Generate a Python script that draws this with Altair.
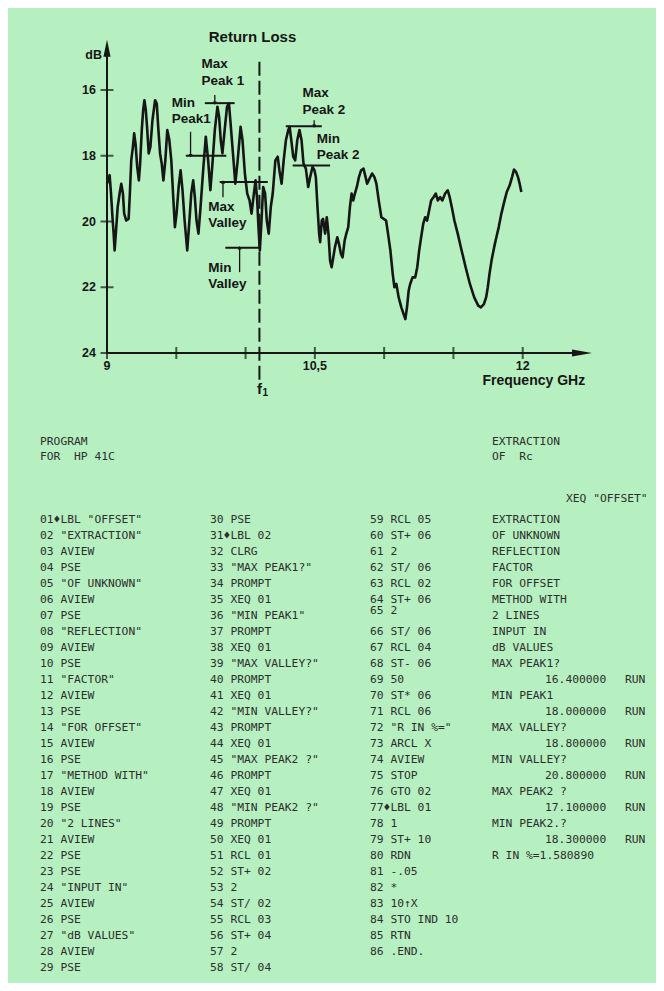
import altair as alt
import pandas as pd

BG = "#b6f0c0"
INK = "#161616"
PRINT = "#2e2e2e"
SANS = "Liberation Sans"
MONO = "DejaVu Sans Mono"

# ---------------- curve ----------------
freq_ghz = [
    9.000, 9.019, 9.029, 9.041, 9.048, 9.055, 9.067, 9.077, 9.091, 9.103,
    9.115, 9.124, 9.139, 9.156, 9.165, 9.175, 9.187, 9.196, 9.206, 9.218,
    9.230, 9.239, 9.251, 9.261, 9.270, 9.280, 9.289, 9.301, 9.313, 9.328,
    9.347, 9.359, 9.371, 9.383, 9.395, 9.407, 9.421, 9.435, 9.450, 9.464,
    9.478, 9.490, 9.502, 9.517, 9.531, 9.545, 9.560, 9.579, 9.593, 9.608,
    9.622, 9.634, 9.646, 9.660, 9.675, 9.694, 9.713, 9.730, 9.746, 9.761,
    9.778, 9.797, 9.809, 9.821, 9.833, 9.849, 9.866, 9.880, 9.892, 9.909,
    9.926, 9.943, 9.964, 9.978, 9.995, 10.012, 10.029, 10.043, 10.060, 10.072,
    10.084, 10.093, 10.103, 10.115, 10.127, 10.141, 10.153, 10.167, 10.182, 10.196,
    10.215, 10.232, 10.244, 10.260, 10.275, 10.291, 10.308, 10.318, 10.330, 10.344,
    10.358, 10.373, 10.389, 10.404, 10.418, 10.435, 10.452, 10.466, 10.483, 10.497,
    10.507, 10.519, 10.531, 10.538, 10.550, 10.559, 10.574, 10.586, 10.598, 10.610,
    10.621, 10.633, 10.645, 10.662, 10.674, 10.688, 10.700, 10.715, 10.727, 10.741,
    10.753, 10.765, 10.777, 10.789, 10.803, 10.818, 10.834, 10.851, 10.866, 10.877,
    10.894, 10.913, 10.930, 10.944, 10.961, 10.980, 10.997, 11.014, 11.028, 11.045,
    11.062, 11.074, 11.088, 11.105, 11.124, 11.141, 11.153, 11.165, 11.177, 11.188,
    11.205, 11.224, 11.239, 11.253, 11.267, 11.282, 11.296, 11.310, 11.325, 11.339,
    11.356, 11.373, 11.387, 11.404, 11.420, 11.440, 11.459, 11.473, 11.488, 11.507,
    11.531, 11.559, 11.588, 11.619, 11.650, 11.679, 11.698, 11.720, 11.736, 11.748,
    11.760, 11.775, 11.794, 11.810, 11.827, 11.846, 11.866, 11.885, 11.906, 11.923,
    11.937, 11.952, 11.966, 11.978, 11.990,
]
loss_db = [
    18.85, 18.59, 19.15, 19.97, 20.37, 20.88, 20.17, 19.56, 19.15, 18.85,
    19.15, 19.76, 19.97, 19.92, 19.15, 18.14, 17.73, 17.32, 17.63, 18.34,
    18.75, 18.24, 17.22, 16.61, 16.31, 16.61, 17.12, 17.93, 17.73, 16.92,
    16.31, 16.41, 17.22, 17.93, 18.24, 18.75, 18.14, 17.22, 17.53, 18.14,
    19.26, 20.17, 19.76, 18.95, 18.44, 19.05, 19.97, 20.88, 20.07, 19.15,
    18.75, 19.26, 19.97, 20.37, 19.56, 18.44, 17.42, 18.14, 19.05, 18.24,
    17.22, 16.51, 16.81, 17.53, 17.93, 17.22, 16.51, 16.41, 17.02, 17.93,
    18.85, 18.14, 17.12, 17.53, 18.54, 19.15, 19.36, 19.76, 19.15, 18.75,
    19.36, 20.17, 20.88, 19.97, 18.95, 19.15, 19.97, 20.37, 19.56, 19.15,
    18.14, 18.03, 18.44, 18.85, 18.14, 17.53, 17.22, 17.12, 17.53, 18.03,
    18.14, 17.53, 17.22, 17.53, 18.24, 18.39, 18.95, 18.65, 18.34, 18.44,
    18.65, 19.56, 20.37, 20.63, 19.97, 19.92, 20.37, 19.87, 20.37, 21.19,
    21.39, 21.09, 20.78, 20.48, 20.68, 20.98, 21.09, 20.58, 20.37, 20.17,
    19.56, 19.15, 19.36, 19.15, 18.95, 18.65, 18.44, 18.39, 18.65, 18.85,
    18.70, 18.54, 18.65, 18.85, 19.36, 19.87, 19.92, 19.97, 20.37, 20.88,
    21.60, 22.00, 21.90, 22.31, 22.61, 22.82, 22.97, 22.61, 22.10, 21.90,
    21.70, 21.70, 21.39, 20.88, 20.48, 20.07, 19.87, 19.97, 19.66, 19.36,
    19.26, 19.15, 19.36, 19.26, 19.36, 19.15, 19.05, 19.26, 19.56, 19.97,
    20.37, 20.88, 21.39, 21.90, 22.31, 22.56, 22.61, 22.51, 22.31, 22.00,
    21.60, 21.19, 20.78, 20.48, 20.17, 19.76, 19.41, 19.10, 18.90, 18.65,
    18.42, 18.49, 18.65, 18.85, 19.10,
]

# ---------------- axes ----------------
x_tick_ghz = [9, 9.5, 10, 10.5, 11, 11.5, 12]
x_label_ghz = [9, 10.5, 12]
x_label_text = ["9", "10,5", "12"]
y_tick_db = [16, 18, 20, 22, 24]
y_label_text = ["16", "18", "20", "22", "24"]
origin_ghz = 9
origin_db = 24
x_axis_end_ghz = 12.43
y_axis_end_db = 14.75
f1_ghz = 10.1
f1_top_db = 15.14
f1_bottom_db = 24.9

# ---------------- annotation levels ----------------
level_db = [16.4, 18.0, 18.8, 20.8, 17.1, 18.3]
level_start_ghz = [9.706, 9.569, 9.813, 9.854, 10.29, 10.34]
level_end_ghz = [9.921, 9.861, 10.16, 10.10, 10.55, 10.61]
label_text = ["Max\nPeak 1", "Min\nPeak1", "Max\nValley", "Min\nValley", "Max\nPeak 2", "Min\nPeak 2"]
label_ghz = [9.682, 9.467, 9.73, 9.73, 10.41, 10.514]
label_db = [15.0, 16.18, 19.34, 21.2, 15.88, 17.27]
leader_ghz = [9.778, 9.603, 9.837, 9.957, 10.495]
leader_from_db = [16.15, 17.27, 19.26, 21.54, 16.92]
leader_to_db = [16.4, 18.0, 18.8, 20.8, 17.1]
leader_dir = ["down", "down", "up", "up", "down"]

# ---------------- program listing ----------------
header_left = ["PROGRAM", "FOR\u00a0\u00a0HP 41C"]
header_right = ["EXTRACTION", "OF\u00a0\u00a0Rc"]
header_rows = [-4.9, -3.95]
xeq_text = 'XEQ "OFFSET"'
xeq_row = -1.3

col1 = [
    '01\u2666LBL "OFFSET"', '02 "EXTRACTION"', '03 AVIEW', '04 PSE', '05 "OF UNKNOWN"',
    '06 AVIEW', '07 PSE', '08 "REFLECTION"', '09 AVIEW', '10 PSE', '11 "FACTOR"',
    '12 AVIEW', '13 PSE', '14 "FOR OFFSET"', '15 AVIEW', '16 PSE', '17 "METHOD WITH"',
    '18 AVIEW', '19 PSE', '20 "2 LINES"', '21 AVIEW', '22 PSE', '23 PSE',
    '24 "INPUT IN"', '25 AVIEW', '26 PSE', '27 "dB VALUES"', '28 AVIEW', '29 PSE',
]
col2 = [
    '30 PSE', '31\u2666LBL 02', '32 CLRG', '33 "MAX PEAK1?"', '34 PROMPT', '35 XEQ 01',
    '36 "MIN PEAK1"', '37 PROMPT', '38 XEQ 01', '39 "MAX VALLEY?"', '40 PROMPT',
    '41 XEQ 01', '42 "MIN VALLEY?"', '43 PROMPT', '44 XEQ 01', '45 "MAX PEAK2 ?"',
    '46 PROMPT', '47 XEQ 01', '48 "MIN PEAK2 ?"', '49 PROMPT', '50 XEQ 01',
    '51 RCL 01', '52 ST+ 02', '53 2', '54 ST/ 02', '55 RCL 03', '56 ST+ 04',
    '57 2', '58 ST/ 04',
]
col3 = [
    '59 RCL 05', '60 ST+ 06', '61 2', '62 ST/ 06', '63 RCL 02', '64 ST+ 06', '65 2',
    '66 ST/ 06', '67 RCL 04', '68 ST- 06', '69 50', '70 ST* 06', '71 RCL 06',
    '72 "R IN %="', '73 ARCL X', '74 AVIEW', '75 STOP', '76 GTO 02', '77\u2666LBL 01',
    '78 1', '79 ST+ 10', '80 RDN', '81 -.05', '82 *', '83 10\u2191X', '84 STO IND 10',
    '85 RTN', '86 .END.',
]
col3_rows = [0, 1, 2, 3, 4, 5, 5.7] + list(range(7, 28))
intro = ["EXTRACTION", "OF UNKNOWN", "REFLECTION", "FACTOR", "FOR OFFSET",
         "METHOD WITH", "2 LINES", "INPUT IN", "dB VALUES"]
prompts = ["MAX PEAK1?", "MIN PEAK1", "MAX VALLEY?", "MIN VALLEY?", "MAX PEAK2 ?", "MIN PEAK2.?"]
answers = ["16.400000", "18.000000", "18.800000", "20.800000", "17.100000", "18.300000"]
result = "R IN %=1.580890"

# ---------------- tables ----------------
curve_df = pd.DataFrame({"f": freq_ghz, "db": loss_db})
axes_df = pd.DataFrame({"f": [origin_ghz, origin_ghz], "f2": [origin_ghz, x_axis_end_ghz],
                        "db": [origin_db, origin_db], "db2": [y_axis_end_db, origin_db]})
xtick_df = pd.DataFrame({"f": x_tick_ghz, "db": origin_db})
ytick_df = pd.DataFrame({"f": origin_ghz, "db": y_tick_db, "t": y_label_text})
xlab_df = pd.DataFrame({"f": x_label_ghz, "db": origin_db, "t": x_label_text})
level_df = pd.DataFrame({"f": level_start_ghz, "f2": level_end_ghz, "db": level_db})
label_df = pd.DataFrame({"f": label_ghz, "db": label_db, "t": label_text})
leader_df = pd.DataFrame({"f": leader_ghz, "db": leader_from_db, "db2": leader_to_db, "d": leader_dir})
f1_df = pd.DataFrame({"f": [f1_ghz], "db": [f1_top_db], "db2": [f1_bottom_db]})

rows = []
for i, t in enumerate(header_left):
    rows.append({"col": 0, "row": header_rows[i], "text": t})
for i, t in enumerate(header_right):
    rows.append({"col": 3, "row": header_rows[i], "text": t})
rows.append({"col": 5, "row": xeq_row, "text": xeq_text})
for i, t in enumerate(col1):
    rows.append({"col": 0, "row": i, "text": t})
for i, t in enumerate(col2):
    rows.append({"col": 1, "row": i, "text": t})
for r, t in zip(col3_rows, col3):
    rows.append({"col": 2, "row": r, "text": t})
for i, t in enumerate(intro):
    rows.append({"col": 3, "row": i, "text": t})
for k, (p, a) in enumerate(zip(prompts, answers)):
    rows.append({"col": 3, "row": len(intro) + 2 * k, "text": p})
    rows.append({"col": 4, "row": len(intro) + 2 * k + 1, "text": a})
    rows.append({"col": 6, "row": len(intro) + 2 * k + 1, "text": "RUN"})
rows.append({"col": 3, "row": len(intro) + 2 * len(prompts), "text": result})
listing_df = pd.DataFrame(rows)

# ---------------- scales ----------------
def xs():
    return alt.Scale(domain=[9, 12.5], range=[99, 584], nice=False, zero=False)

def ys():
    return alt.Scale(domain=[16, 24], range=[82, 345], nice=False, zero=False)

def X(f):
    return alt.X(f, type="quantitative", scale=xs(), axis=None)

def Y(f):
    return alt.Y(f, type="quantitative", scale=ys(), axis=None)

bold = dict(font=SANS, fontWeight="bold", color=INK)

curve = alt.Chart(curve_df).mark_line(color=INK, strokeWidth=2.6, strokeJoin="round").encode(
    x=X("f"), y=Y("db"))
axes = alt.Chart(axes_df).mark_rule(color=INK, strokeWidth=2).encode(
    x=X("f"), x2="f2", y=Y("db"), y2="db2")
y_arrow = alt.Chart(pd.DataFrame({"f": [origin_ghz], "db": [14.73]})).mark_point(
    shape="M0,-1L0.42,1L-0.42,1Z", size=289, filled=True, color=INK, opacity=1, strokeWidth=0
).encode(x=X("f"), y=Y("db"))
x_arrow = alt.Chart(pd.DataFrame({"f": [12.428], "db": [origin_db]})).mark_point(
    shape="M1,0L-1,-0.36L-1,0.36Z", size=400, filled=True, color=INK, opacity=1, strokeWidth=0
).encode(x=X("f"), y=Y("db"))
xticks = alt.Chart(xtick_df).mark_tick(orient="vertical", size=12, thickness=2, color=INK).encode(
    x=X("f"), y=Y("db"))
yticks = alt.Chart(ytick_df).mark_tick(orient="horizontal", size=13, thickness=2, color=INK).encode(
    x=X("f"), y=Y("db"))
ylabels = alt.Chart(ytick_df).mark_text(align="right", baseline="middle", dx=-11, fontSize=12.5, **bold).encode(
    x=X("f"), y=Y("db"), text="t:N")
xlabels = alt.Chart(xlab_df).mark_text(align="center", baseline="middle", dy=13, fontSize=12.5, **bold).encode(
    x=X("f"), y=Y("db"), text="t:N")
db_label = alt.Chart(pd.DataFrame({"f": [origin_ghz], "db": [14.94], "t": ["dB"]})).mark_text(
    align="right", baseline="middle", dx=-5, fontSize=12.5, **bold).encode(x=X("f"), y=Y("db"), text="t:N")
title = alt.Chart(pd.DataFrame({"f": [10.05], "db": [14.39], "t": ["Return Loss"]})).mark_text(
    align="center", baseline="middle", fontSize=15, **bold).encode(x=X("f"), y=Y("db"), text="t:N")
freq_label = alt.Chart(pd.DataFrame({"f": [12.08], "db": [origin_db], "t": ["Frequency GHz"]})).mark_text(
    align="center", baseline="middle", dy=28, fontSize=14, **bold).encode(x=X("f"), y=Y("db"), text="t:N")
f1_line = alt.Chart(f1_df).mark_rule(color=INK, strokeWidth=2, strokeDash=[14, 5]).encode(
    x=X("f"), y=Y("db"), y2="db2")
f1_f = alt.Chart(pd.DataFrame({"f": [f1_ghz], "db": [origin_db], "t": ["f"]})).mark_text(
    align="center", baseline="middle", dy=36, fontSize=15, **bold).encode(x=X("f"), y=Y("db"), text="t:N")
f1_sub = alt.Chart(pd.DataFrame({"f": [f1_ghz], "db": [origin_db], "t": ["1"]})).mark_text(
    align="left", baseline="middle", dx=3, dy=40, fontSize=10, **bold).encode(x=X("f"), y=Y("db"), text="t:N")
levels = alt.Chart(level_df).mark_rule(color=INK, strokeWidth=2).encode(
    x=X("f"), x2="f2", y=Y("db"))
leaders = alt.Chart(leader_df).mark_rule(color=INK, strokeWidth=1.3).encode(
    x=X("f"), y=Y("db"), y2="db2")
heads_down = alt.Chart(leader_df).transform_filter(alt.datum.d == "down").mark_point(
    shape="triangle-down", size=16, filled=True, color=INK, opacity=1).encode(x=X("f"), y=Y("db2"))
heads_up = alt.Chart(leader_df).transform_filter(alt.datum.d == "up").mark_point(
    shape="triangle-up", size=16, filled=True, color=INK, opacity=1).encode(x=X("f"), y=Y("db2"))
labels = alt.Chart(label_df).mark_text(align="left", baseline="top", lineBreak="\n", lineHeight=16.5,
                                       fontSize=13.5, **bold).encode(x=X("f"), y=Y("db"), text="t:N")

lx = alt.Scale(type="linear", domain=[0, 1, 2, 3, 4, 5, 6], range=[32, 202, 362, 484, 537, 558, 617],
               nice=False, zero=False)
ly = alt.Scale(type="linear", domain=[0, 28], range=[512, 960], nice=False, zero=False)
listing = alt.Chart(listing_df).mark_text(align="left", baseline="middle", font=MONO, fontSize=11.3,
                                          color=PRINT).encode(
    x=alt.X("col:Q", scale=lx, axis=None),
    y=alt.Y("row:Q", scale=ly, axis=None),
    text="text:N")

chart = alt.layer(
    curve, axes, y_arrow, x_arrow, xticks, yticks, ylabels, xlabels, db_label, title, freq_label,
    f1_line, f1_f, f1_sub, levels, leaders, heads_down, heads_up, labels, listing
).resolve_scale(x="independent", y="independent").properties(
    width=648, height=975, background=BG, padding=0,
    autosize=alt.AutoSizeParams(type="none")
).configure_view(stroke=None)

chart.save("out.html", embed_options={"renderer": "svg", "actions": False})
